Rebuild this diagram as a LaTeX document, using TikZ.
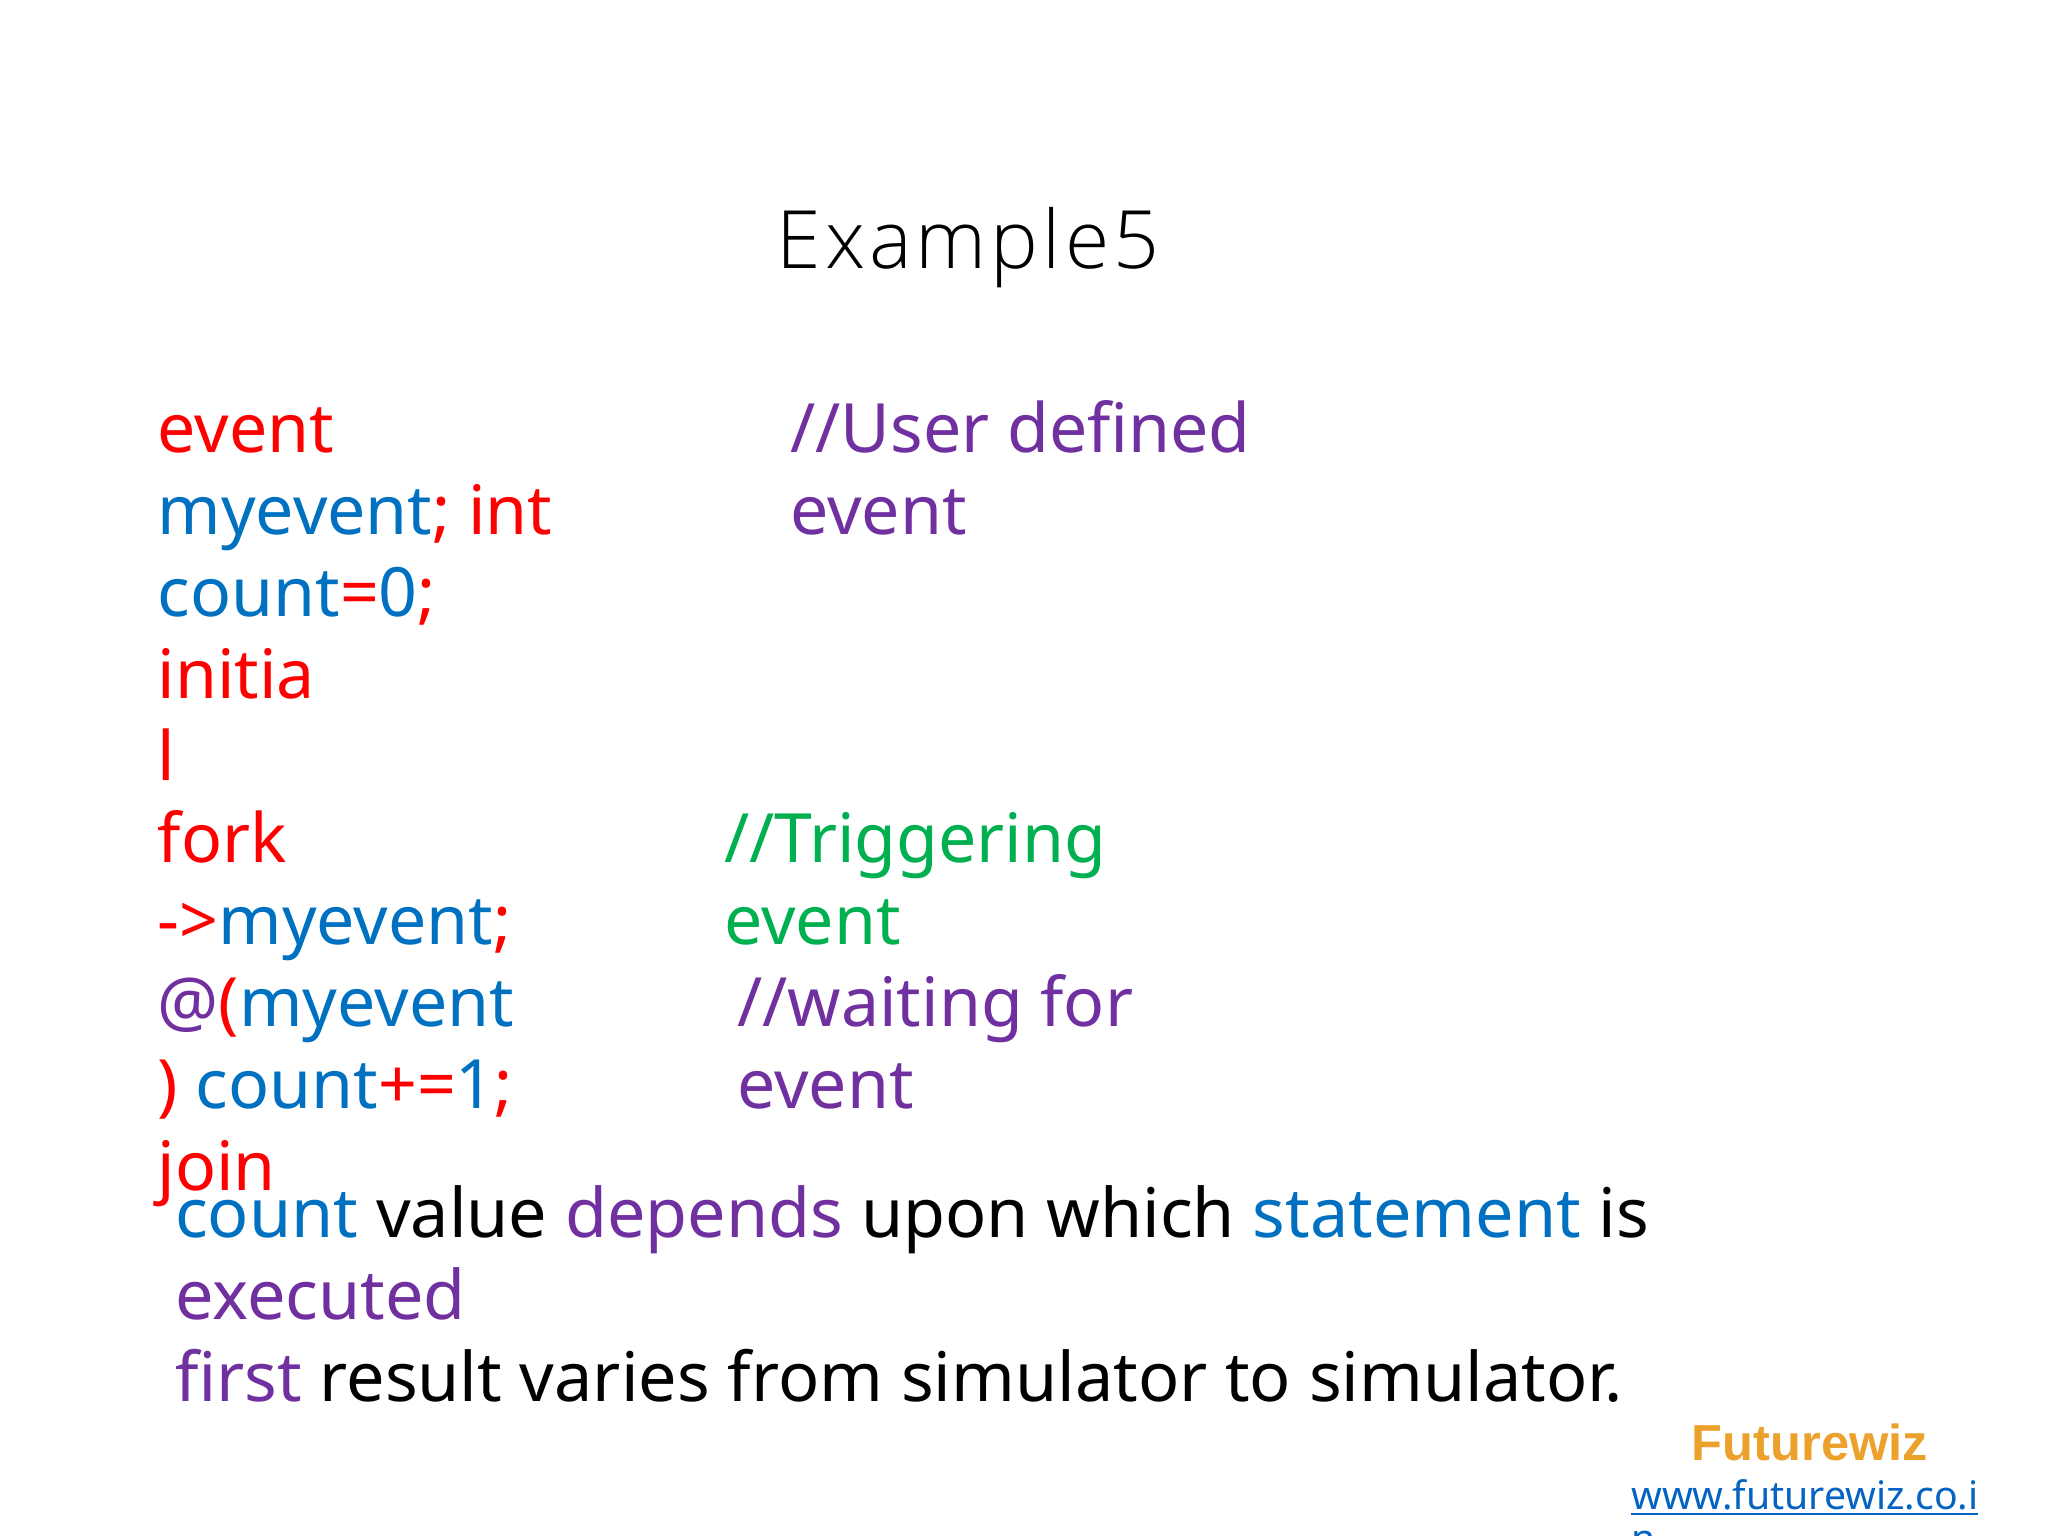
\documentclass[tikz,border=0pt]{standalone}
\usepackage{fontspec}
\setmainfont{Noto Sans}
\newfontfamily\logofont{Liberation Sans}
\newfontfamily\titlefont{Open Sans Light}
\usetikzlibrary{positioning}
\definecolor{kwred}{RGB}{255,0,0}
\definecolor{idblue}{RGB}{0,112,192}
\definecolor{cmpurple}{RGB}{112,48,160}
\definecolor{cmgreen}{RGB}{0,176,80}
\definecolor{logoorange}{RGB}{237,161,45}
\definecolor{linkblue}{RGB}{5,99,193}
\newcommand{\kw}[1]{\textcolor{kwred}{#1}}
\newcommand{\id}[1]{\textcolor{idblue}{#1}}
\newcommand{\cm}[1]{\textcolor{cmpurple}{#1}}
\begin{document}
\begin{tikzpicture}
      [
        x=1pt,y=-1pt,
        codeline/.style={anchor=base west,inner sep=0pt,font=\fontsize{68}{80}\selectfont},
        resultline/.style={anchor=base west,inner sep=0pt,font=\fontsize{68.3}{80}\selectfont},
        webline/.style={anchor=base west,inner sep=0pt,font=\fontsize{39.2}{47}\selectfont},
      ]
      \useasboundingbox (0,0) rectangle (2048,1536);
      % title
      \node [inner sep=0pt,anchor=base] (title) at (968,268)
      {\titlefont\fontsize{80.5}{90}\selectfont\addfontfeature{LetterSpace=5}Example5};
      % code
      \node [codeline] (l1) at (157.5,452) {\kw{event}};
      \node [codeline] (l2) at (157.5,534) {\id{myevent}\kw{; int}};
      \node [codeline] (l3) at (157.5,616) {\id{count}\kw{=}\id{0}\kw{;}};
      \node [codeline] (l4) at (157.5,698) {\kw{initia}};
      \node [codeline] (l5) at (157.5,780) {\kw{l}};
      \node [codeline] (l6) at (157.5,862) {\kw{fork}};
      \node [codeline] (l7) at (157.5,944) {\kw{->}\id{myevent}\kw{;}};
      \node [codeline] (l8) at (157.5,1026) {\cm{@}\kw{(}\id{myevent}};
      \node [codeline] (l9) at (157.5,1108) {\kw{)} \id{count}\kw{+=}\id{1}\kw{;}};
      \node [codeline] (l10) at (157.5,1190) {\kw{join}};
      % comments
      \node [codeline] (c1) at (790,452) {\cm{//User defined}};
      \node [codeline] (c2) at (790,534) {\cm{event}};
      \node [codeline] (c3) at (724,862) {\textcolor{cmgreen}{//Triggering}};
      \node [codeline] (c4) at (724,944) {\textcolor{cmgreen}{event}};
      \node [codeline] (c5) at (737,1026) {\cm{//waiting for}};
      \node [codeline] (c6) at (737,1108) {\cm{event}};
      % result
      \node [resultline] (r1) at (175,1237.5) {\id{count} value \cm{depends} upon which \id{statement} is};
      \node [resultline] (r2) at (175,1319.5) {\cm{executed}};
      \node [resultline] (r3) at (175,1401.5) {\cm{first} result varies from simulator to simulator.};
      % logo
      \node [inner sep=0pt,anchor=base] (logo) at (1810,1460)
      {\logofont\bfseries\fontsize{50.6}{56}\selectfont\textcolor{logoorange}{Futurewiz}};
      \node [webline] (web1) at (1631,1509) {\textcolor{linkblue}{www.futurewiz.co.i}};
      \node [webline] (web2) at (1631,1552) {\textcolor{linkblue}{n}};
      \draw [linkblue,line width=2.5pt] (web1.base west)++(0,5) -- ++(347,0);
\end{tikzpicture}
\end{document}
